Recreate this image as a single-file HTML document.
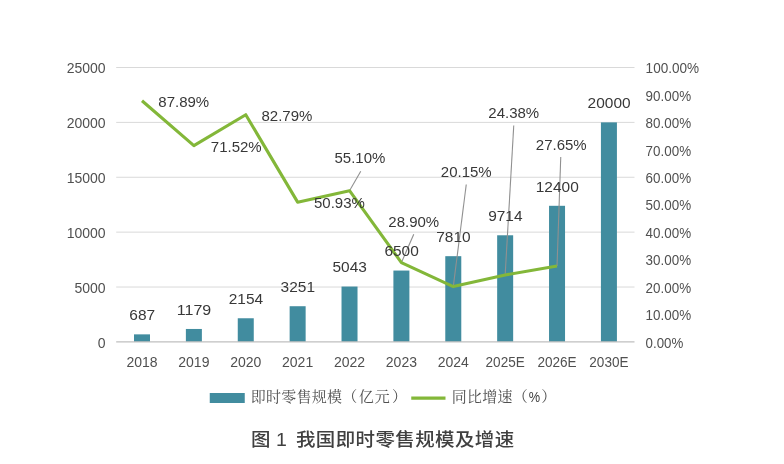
<!DOCTYPE html>
<html lang="zh-CN"><head><meta charset="utf-8"><title>图 1 我国即时零售规模及增速</title>
<style>html,body{margin:0;padding:0;background:#fff}body{width:784px;height:464px;overflow:hidden}</style></head>
<body>
<svg width="784" height="464" viewBox="0 0 784 464" style="display:block">
<rect width="784" height="464" fill="#fff"/>
<line x1="116.2" x2="634.5" y1="287.02" y2="287.02" stroke="#d9d9d9" stroke-width="1"/>
<line x1="116.2" x2="634.5" y1="232.14" y2="232.14" stroke="#d9d9d9" stroke-width="1"/>
<line x1="116.2" x2="634.5" y1="177.26" y2="177.26" stroke="#d9d9d9" stroke-width="1"/>
<line x1="116.2" x2="634.5" y1="122.38" y2="122.38" stroke="#d9d9d9" stroke-width="1"/>
<line x1="116.2" x2="634.5" y1="67.50" y2="67.50" stroke="#d9d9d9" stroke-width="1"/>
<rect x="134.00" y="334.36" width="16.0" height="7.54" fill="#418c9f"/>
<rect x="185.88" y="328.96" width="16.0" height="12.94" fill="#418c9f"/>
<rect x="237.76" y="318.26" width="16.0" height="23.64" fill="#418c9f"/>
<rect x="289.64" y="306.22" width="16.0" height="35.68" fill="#418c9f"/>
<rect x="341.52" y="286.55" width="16.0" height="55.35" fill="#418c9f"/>
<rect x="393.40" y="270.56" width="16.0" height="71.34" fill="#418c9f"/>
<rect x="445.28" y="256.18" width="16.0" height="85.72" fill="#418c9f"/>
<rect x="497.16" y="235.28" width="16.0" height="106.62" fill="#418c9f"/>
<rect x="549.04" y="205.80" width="16.0" height="136.10" fill="#418c9f"/>
<rect x="600.92" y="122.38" width="16.0" height="219.52" fill="#418c9f"/>
<line x1="116.2" x2="634.5" y1="341.9" y2="341.9" stroke="#bfbfbf" stroke-width="1.2"/>
<line x1="360.75" y1="171.25" x2="349.52" y2="190.71" stroke="#909090" stroke-width="1.1"/>
<line x1="413.75" y1="234.25" x2="401.40" y2="262.60" stroke="#909090" stroke-width="1.1"/>
<line x1="466.25" y1="184.5" x2="453.28" y2="286.61" stroke="#909090" stroke-width="1.1"/>
<line x1="513.75" y1="125.5" x2="505.16" y2="275.00" stroke="#909090" stroke-width="1.1"/>
<line x1="560.75" y1="157" x2="557.04" y2="266.03" stroke="#909090" stroke-width="1.1"/>
<polyline points="142.00,100.73 193.88,145.65 245.76,114.72 297.64,202.15 349.52,190.71 401.40,262.60 453.28,286.61 505.16,275.00 557.04,266.03" fill="none" stroke="#83b739" stroke-width="3.1" stroke-linejoin="round" stroke-linecap="butt"/>
<g font-family="'Liberation Sans', sans-serif">
<g font-size="14" fill="#505050" text-anchor="end">
<text x="105.6" y="347.60">0</text>
<text x="105.6" y="292.72">5000</text>
<text x="105.6" y="237.84">10000</text>
<text x="105.6" y="182.96">15000</text>
<text x="105.6" y="128.08">20000</text>
<text x="105.6" y="73.20">25000</text>
</g>
<g font-size="14" fill="#505050">
<text x="645.6" y="347.60" textLength="37.7" lengthAdjust="spacingAndGlyphs">0.00%</text>
<text x="645.6" y="320.16" textLength="45.5" lengthAdjust="spacingAndGlyphs">10.00%</text>
<text x="645.6" y="292.72" textLength="45.5" lengthAdjust="spacingAndGlyphs">20.00%</text>
<text x="645.6" y="265.28" textLength="45.5" lengthAdjust="spacingAndGlyphs">30.00%</text>
<text x="645.6" y="237.84" textLength="45.5" lengthAdjust="spacingAndGlyphs">40.00%</text>
<text x="645.6" y="210.40" textLength="45.5" lengthAdjust="spacingAndGlyphs">50.00%</text>
<text x="645.6" y="182.96" textLength="45.5" lengthAdjust="spacingAndGlyphs">60.00%</text>
<text x="645.6" y="155.52" textLength="45.5" lengthAdjust="spacingAndGlyphs">70.00%</text>
<text x="645.6" y="128.08" textLength="45.5" lengthAdjust="spacingAndGlyphs">80.00%</text>
<text x="645.6" y="100.64" textLength="45.5" lengthAdjust="spacingAndGlyphs">90.00%</text>
<text x="645.6" y="73.20" textLength="53.5" lengthAdjust="spacingAndGlyphs">100.00%</text>
</g>
<g font-size="14" fill="#505050" text-anchor="middle">
<text x="142.00" y="367">2018</text>
<text x="193.88" y="367">2019</text>
<text x="245.76" y="367">2020</text>
<text x="297.64" y="367">2021</text>
<text x="349.52" y="367">2022</text>
<text x="401.40" y="367">2023</text>
<text x="453.28" y="367">2024</text>
<text x="505.16" y="367" textLength="39.2" lengthAdjust="spacingAndGlyphs">2025E</text>
<text x="557.04" y="367" textLength="39.2" lengthAdjust="spacingAndGlyphs">2026E</text>
<text x="608.92" y="367" textLength="39.2" lengthAdjust="spacingAndGlyphs">2030E</text>
</g>
<g font-size="15" fill="#383838">
<text x="158.3" y="106.75">87.89%</text>
<text x="261.5" y="121">82.79%</text>
<text x="210.8" y="152">71.52%</text>
<text x="334.5" y="163.25">55.10%</text>
<text x="314" y="208.25">50.93%</text>
<text x="388.3" y="227">28.90%</text>
<text x="440.8" y="177">20.15%</text>
<text x="488.3" y="118">24.38%</text>
<text x="535.8" y="149.5">27.65%</text>
</g>
<g font-size="15" fill="#383838" text-anchor="middle">
<text x="142.20" y="320.06" textLength="25.8" lengthAdjust="spacingAndGlyphs">687</text>
<text x="194.08" y="314.66" textLength="34.4" lengthAdjust="spacingAndGlyphs">1179</text>
<text x="245.96" y="303.96" textLength="34.4" lengthAdjust="spacingAndGlyphs">2154</text>
<text x="297.84" y="291.92" textLength="34.4" lengthAdjust="spacingAndGlyphs">3251</text>
<text x="349.72" y="272.25" textLength="34.4" lengthAdjust="spacingAndGlyphs">5043</text>
<text x="401.60" y="256.26" textLength="34.4" lengthAdjust="spacingAndGlyphs">6500</text>
<text x="453.48" y="241.88" textLength="34.4" lengthAdjust="spacingAndGlyphs">7810</text>
<text x="505.36" y="220.98" textLength="34.4" lengthAdjust="spacingAndGlyphs">9714</text>
<text x="557.24" y="191.50" textLength="43.0" lengthAdjust="spacingAndGlyphs">12400</text>
<text x="609.12" y="108.08" textLength="43.0" lengthAdjust="spacingAndGlyphs">20000</text>
</g>
</g>
<rect x="209.75" y="393" width="35" height="10" fill="#418c9f"/>
<line x1="411.25" x2="445.5" y1="398.1" y2="398.1" stroke="#83b739" stroke-width="3.1"/>
<g font-family="'Liberation Serif', 'Noto Serif CJK SC', serif" font-size="15" letter-spacing="0.25" fill="#505050">
<text x="250.8" y="402.4">即时零售规模（<tspan dx="1.2">亿</tspan><tspan dx="0.7">元</tspan><tspan dx="1.9">）</tspan></text>
<text x="451.8" y="402.4">同比增速（<tspan font-family="'Liberation Sans', sans-serif" font-size="14.5" fill="#404040" dx="0.7" textLength="11.6" lengthAdjust="spacingAndGlyphs">%</tspan><tspan dx="0.8">）</tspan></text>
</g>
<g transform="translate(0,445.6) scale(1.07,1)"><text y="0" font-family="'Liberation Sans', 'Noto Sans CJK SC', sans-serif" font-size="18.2" font-weight="500" fill="#404040"><tspan x="234.58" letter-spacing="0.1">图 1 </tspan><tspan x="276.54" letter-spacing="0.4">我国即时零售规模及增速</tspan></text></g>
</svg>
</body></html>
